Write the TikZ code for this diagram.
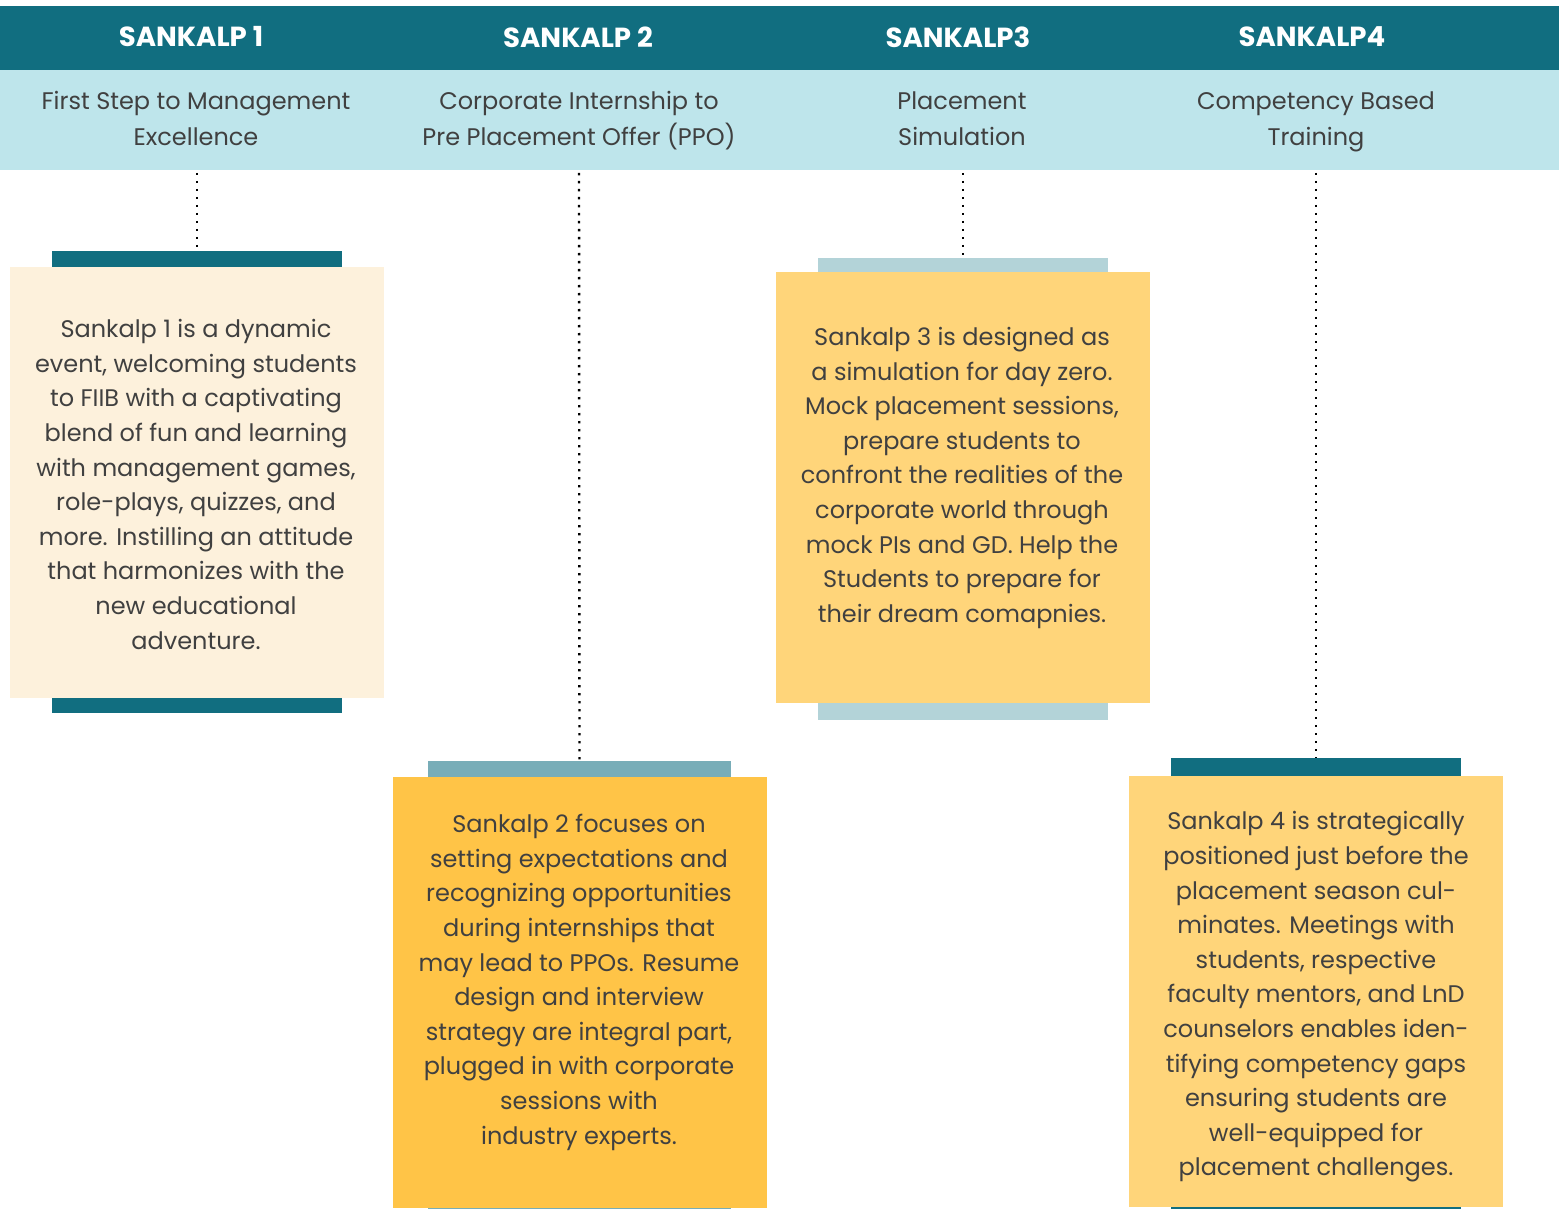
\documentclass[tikz,border=0pt]{standalone}
\usepackage{fontspec}
\setmainfont{Poppins}
\definecolor{tealdark}{RGB}{17,110,128}
\definecolor{bandblue}{RGB}{190,229,235}
\definecolor{creamc}{RGB}{253,241,220}
\definecolor{orangec}{RGB}{255,196,71}
\definecolor{yellowc}{RGB}{255,213,122}
\definecolor{barmid}{RGB}{120,173,184}
\definecolor{barlight}{RGB}{179,211,216}
\definecolor{txt}{RGB}{64,64,64}
\begin{document}
\begin{tikzpicture}[x=1pt,y=-1pt,
  band/.style={draw=none,inner sep=0pt,anchor=north west},
  headtxt/.style={text=white,font=\bfseries\fontsize{27.6}{30}\selectfont,inner sep=0pt},
  subtxt/.style={text=txt,font=\fontsize{24}{36}\selectfont,align=center,inner sep=0pt},
  bodytxt/.style={text=txt,font=\fontsize{24}{34.6}\selectfont,align=center,inner sep=0pt},
  barbox/.style={draw=none,inner sep=0pt,minimum width=290pt},
  card/.style={draw=none,inner sep=0pt,minimum width=374pt},
  conn/.style={line width=2.4pt,dash pattern=on 2.4pt off 5.6pt,black}
]
\useasboundingbox[fill=white] (0,0) rectangle (1559,1209);
% header bands
\node[band,fill=tealdark,minimum width=1559pt,minimum height=64pt] (hb) at (0,6) {};
\node[band,fill=bandblue,minimum width=1559pt,minimum height=100pt] (sb) at (0,70) {};
% titles
\node[headtxt] (h1) at (191,37) {SANKALP 1};
\node[headtxt] (h2) at (578,37) {SANKALP 2};
\node[headtxt] (h3) at (958,37) {SANKALP3};
\node[headtxt] (h4) at (1312,37) {SANKALP4};
% subtitles
\node[subtxt] (s1) at (196,120) {\strut First Step to Management\\\strut Excellence};
\node[subtxt] (s2) at (579,120) {\strut Corporate Internship to\\\strut Pre Placement Offer (PPO)};
\node[subtxt] (s3) at (962,120) {\strut Placement\\\strut Simulation};
\node[subtxt] (s4) at (1316,120) {\strut Competency Based\\\strut Training};
% connector anchors
\coordinate (d1) at (197,173);
\coordinate (d2) at (579,173);
\coordinate (d3) at (963,173);
\coordinate (d4) at (1316,173);
% card 1
\node[barbox,fill=tealdark,minimum height=16pt] (t1) at (197,259) {};
\node[barbox,fill=tealdark,minimum height=15pt] (u1) at (197,705) {};
\node[card,fill=creamc,minimum height=431pt] (c1) at (197,482.5) {};
\node[bodytxt] (x1) at (196,486.5) {\strut Sankalp 1 is a dynamic\\event, welcoming students\\to FIIB with a captivating\\blend of fun and learning\\with management games,\\role-plays, quizzes, and\\more. Instilling an attitude\\that harmonizes with the\\new educational\\adventure.\strut};
% card 2
\node[barbox,fill=barmid,minimum width=303pt,minimum height=16pt] (t2) at (579.5,769) {};
\node[barbox,fill=barmid,minimum width=303pt,minimum height=4pt] (u2) at (579.5,1208) {};
\node[card,fill=orangec,minimum height=431pt] (c2) at (580,992.5) {};
\node[bodytxt] (x2) at (579,981.5) {\strut Sankalp 2 focuses on\\setting expectations and\\recognizing opportunities\\during internships that\\may lead to PPOs. Resume\\design and interview\\strategy are integral part,\\plugged in with corporate\\sessions with\\industry experts.\strut};
% card 3
\node[barbox,fill=barlight,minimum height=14pt] (t3) at (963,265) {};
\node[barbox,fill=barlight,minimum height=17pt] (u3) at (963,711.5) {};
\node[card,fill=yellowc,minimum height=431pt] (c3) at (963,487.5) {};
\node[bodytxt] (x3) at (962,477) {\strut Sankalp 3 is designed as\\a simulation for day zero.\\Mock placement sessions,\\prepare students to\\confront the realities of the\\corporate world through\\mock PIs and GD. Help the\\Students to prepare for\\their dream comapnies.\strut};
% card 4
\node[barbox,fill=tealdark,minimum height=18pt] (t4) at (1316,767) {};
\node[barbox,fill=tealdark,minimum height=4pt] (u4) at (1316,1208) {};
\node[card,fill=yellowc,minimum height=431pt] (c4) at (1316,991.5) {};
\node[bodytxt] (x4) at (1316,996) {\strut Sankalp 4 is strategically\\positioned just before the\\placement season cul-\\minates. Meetings with\\students, respective\\faculty mentors, and LnD\\counselors enables iden-\\tifying competency gaps\\ensuring students are\\well-equipped for\\placement challenges.\strut};
% dotted connectors
\draw[conn] (d1) -- (t1.north);
\draw[conn] (d2) -- (t2.north);
\draw[conn] (d3) -- (t3.north);
\draw[conn] (d4) -- (t4.north);
\end{tikzpicture}
\end{document}
